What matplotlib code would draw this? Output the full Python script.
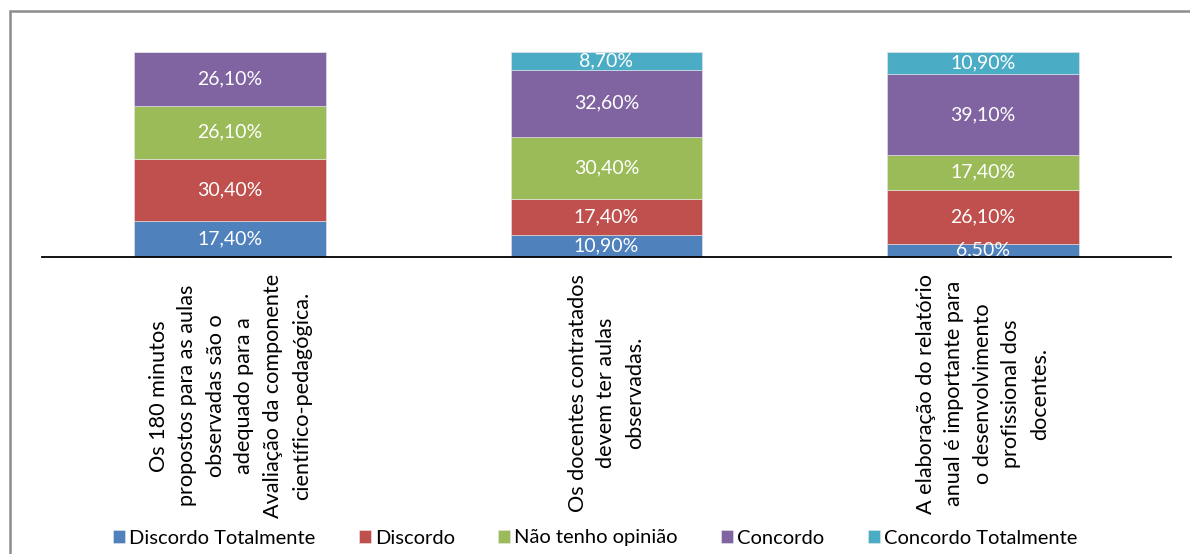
import matplotlib.pyplot as plt
from matplotlib.patches import Rectangle
import numpy as np

plt.rcParams['font.family'] = ['Lato', 'DejaVu Sans']

# questões (rótulos do eixo x)
categorias = [
    "Os 180 minutos\npropostos para as aulas\nobservadas são o\nadequado para a\nAvaliação da componente\ncientífico-pedagógica.",
    "Os docentes contratados\ndevem ter aulas\nobservadas.",
    "A elaboração do relatório\nanual é importante para\no desenvolvimento\nprofissional dos\ndocentes.",
]

# percentagens por resposta
respostas = ["Discordo Totalmente", "Discordo", "Não tenho opinião", "Concordo", "Concordo Totalmente"]
discordo_totalmente = [17.4, 10.9, 6.5]
discordo = [30.4, 17.4, 26.1]
sem_opiniao = [26.1, 30.4, 17.4]
concordo = [26.1, 32.6, 39.1]
concordo_totalmente = [0.0, 8.7, 10.9]

cores = ["#4F81BD", "#C0504D", "#9BBB59", "#8064A2", "#4BACC6"]
series = [discordo_totalmente, discordo, sem_opiniao, concordo, concordo_totalmente]

fig = plt.figure(figsize=(11.9, 5.54), dpi=100)
ax = fig.add_axes([42 / 1190, 1 - 257 / 554, (1171 - 42) / 1190, (257 - 52) / 554])

x = np.arange(len(categorias))
base = np.zeros(len(categorias))
for nome, vals, cor in zip(respostas, series, cores):
    vals = np.array(vals)
    ax.bar(x, vals, width=0.51, bottom=base, color=cor, label=nome,
           edgecolor="#e8e8e8", linewidth=0.4)
    for xi, b, v in zip(x, base, vals):
        if v > 0:
            ax.text(xi, b + v / 2, f"{v:.2f}%".replace(".", ","), ha="center", va="center",
                    color="white", fontsize=14, clip_on=True)
    base += vals

ax.set_xlim(-0.5, 2.5)
ax.set_ylim(0, 100)
for s in ["top", "right", "left"]:
    ax.spines[s].set_visible(False)
ax.spines["bottom"].set_linewidth(1.3)
ax.spines["bottom"].set_zorder(5)
ax.set_yticks([])
ax.set_xticks(x)
ax.set_xticklabels(categorias, rotation=90, ha="center", va="top",
                   multialignment="center", fontsize=15.6, linespacing=1.54)
ax.tick_params(axis="x", length=0, pad=12)

fig.legend(loc="center", bbox_to_anchor=(0.5, 1 - 538 / 554), ncol=5, frameon=False,
           fontsize=14.5, handlelength=0.6, handleheight=0.6, handletextpad=0.2,
           columnspacing=2.15, borderaxespad=0)

# moldura da área do gráfico
fig.patches.append(Rectangle((10 / 1190, -0.1), 1.2, 1.1 - 11 / 554, transform=fig.transFigure,
                             fill=False, edgecolor="#8c8c8c", linewidth=1.8))

fig.savefig("out.png", dpi=100)
